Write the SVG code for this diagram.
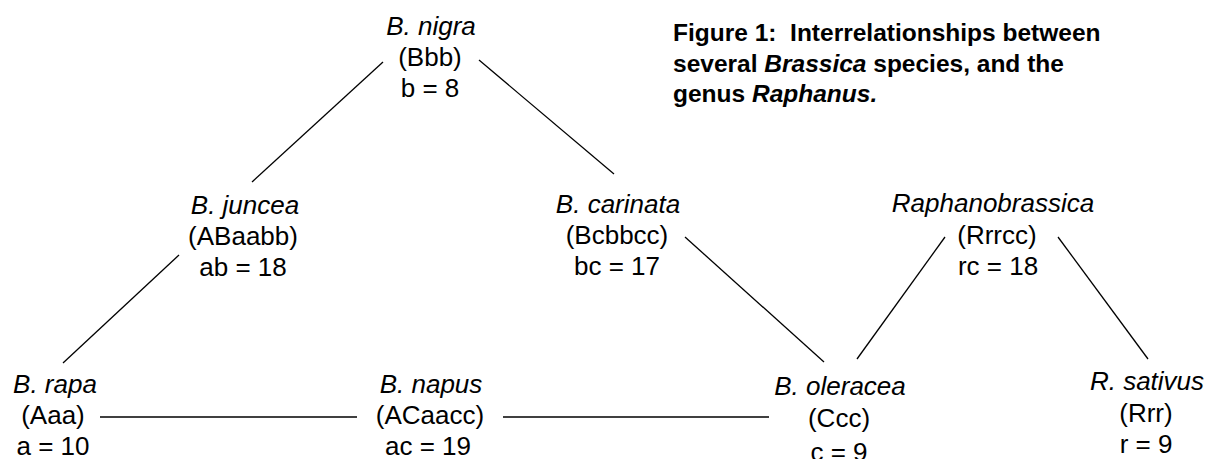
<svg xmlns="http://www.w3.org/2000/svg" width="1207" height="459" viewBox="0 0 1207 459">
<style>
.n{font-family:"Liberation Sans",Arial,sans-serif;font-size:26px;fill:#000;text-anchor:middle}
.i{font-style:italic}
.t{font-family:"Liberation Sans",Arial,sans-serif;font-size:24.5px;font-weight:bold;fill:#000}
.e{stroke:#000;stroke-width:1.3;fill:none}
</style>
<rect width="1207" height="459" fill="#fff"/>
<g id="connectors">
<line class="e" x1="383" y1="62" x2="252" y2="182"/>
<line class="e" x1="479" y1="60" x2="614" y2="174"/>
<line class="e" x1="179" y1="255" x2="63" y2="363"/>
<line class="e" x1="685" y1="237" x2="824" y2="362"/>
<line class="e" x1="945" y1="237" x2="857" y2="359"/>
<line class="e" x1="1058" y1="237" x2="1148" y2="359"/>
<line class="e" x1="100" y1="417" x2="357" y2="417"/>
<line class="e" x1="503" y1="417" x2="769" y2="417"/>
</g>
<g id="title">
<text class="t" x="673" y="41" xml:space="preserve">Figure 1:  Interrelationships between</text>
<text class="t" x="673" y="72">several <tspan font-style="italic">Brassica</tspan> species, and the</text>
<text class="t" x="673" y="102">genus <tspan font-style="italic">Raphanus.</tspan></text>
</g>
<g id="nigra">
<text class="n i" x="431" y="35">B. nigra</text>
<text class="n" x="430" y="66">(Bbb)</text>
<text class="n" x="430" y="97">b = 8</text>
</g>
<g id="juncea">
<text class="n i" x="245" y="214">B. juncea</text>
<text class="n" x="243" y="245">(ABaabb)</text>
<text class="n" x="243" y="276">ab = 18</text>
</g>
<g id="carinata">
<text class="n i" x="618" y="213">B. carinata</text>
<text class="n" x="617" y="244">(Bcbbcc)</text>
<text class="n" x="617" y="275">bc = 17</text>
</g>
<g id="raphanobrassica">
<text class="n i" x="993" y="212">Raphanobrassica</text>
<text class="n" x="997" y="244">(Rrrcc)</text>
<text class="n" x="998" y="275">rc = 18</text>
</g>
<g id="rapa">
<text class="n i" x="55" y="393">B. rapa</text>
<text class="n" x="53" y="424">(Aaa)</text>
<text class="n" x="53" y="455">a = 10</text>
</g>
<g id="napus">
<text class="n i" x="431" y="393">B. napus</text>
<text class="n" x="430" y="424">(ACaacc)</text>
<text class="n" x="428" y="455">ac = 19</text>
</g>
<g id="oleracea">
<text class="n i" x="840" y="395">B. oleracea</text>
<text class="n" x="839" y="427">(Ccc)</text>
<text class="n" x="839" y="461">c = 9</text>
</g>
<g id="sativus">
<text class="n i" x="1147" y="390">R. sativus</text>
<text class="n" x="1146" y="422">(Rrr)</text>
<text class="n" x="1146" y="453">r = 9</text>
</g>
</svg>
